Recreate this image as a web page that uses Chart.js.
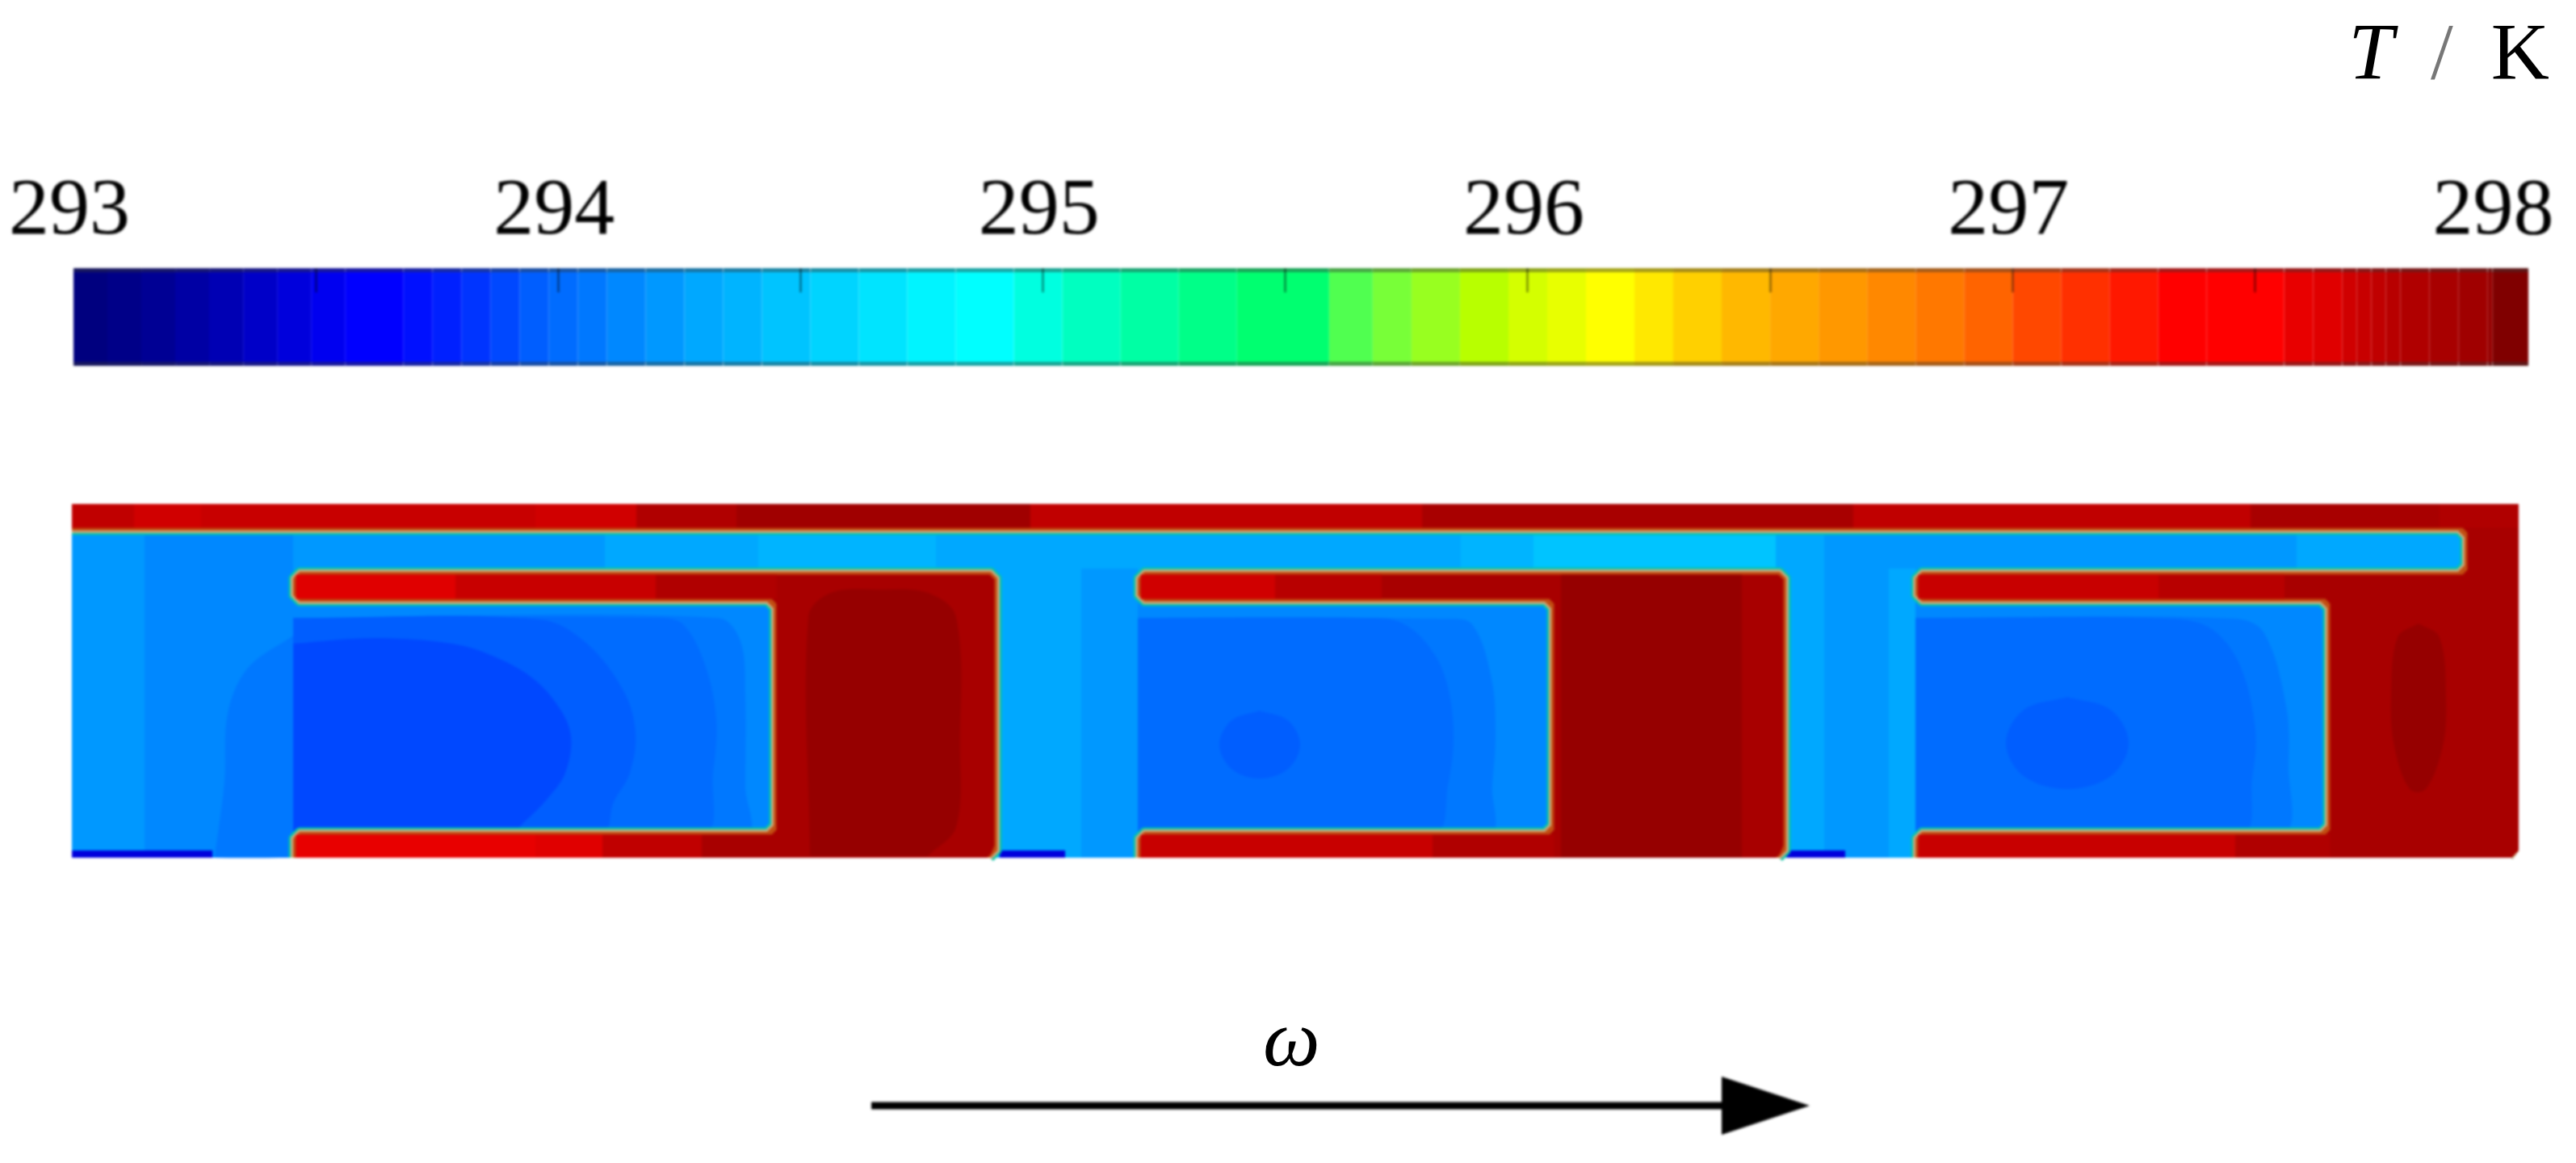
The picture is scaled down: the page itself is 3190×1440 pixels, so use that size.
<!DOCTYPE html>
<html>
<head>
<meta charset="utf-8">
<title>T / K</title>
<script src="https://cdn.jsdelivr.net/npm/chart.js@4"></script>
<style>
    html, body { margin: 0; padding: 0; background: #fff; }
    body { width: 3190px; height: 1440px; position: relative; overflow: hidden; }
    canvas { position: absolute; filter: blur(1.4px); }
    #barChart { left: 0; top: 200px; }
    #fieldChart { left: 89px; top: 624px; }
    .note { position: absolute; font-family: "Liberation Serif", serif; color: #000; line-height: 1; white-space: pre; }
    #unit { right: 33px; top: 14px; font-size: 100px; }
    #unit i { margin-right: 46px; }
    #unit .slash { color: #777; margin-right: 47px; }
    #omega { left: 1564px; top: 1236px; font-size: 100px; font-style: italic; }
</style>
</head>
<body>
<canvas id="barChart" width="3190" height="253"></canvas>
<canvas id="fieldChart" width="3030" height="816"></canvas>
<div class="note" id="unit"><i>T</i><span class="slash">/</span>K</div>
<div class="note" id="omega">ω</div>

<script>
// Colour bar: band start temperatures and colours
const tempMin = 293;
const tempMax = 298.064;
const tempStep = 0.5;
const tempLabels = [293, 294, 295, 296, 297, 298];
const bandStarts = [293.00, 293.07, 293.14, 293.21, 293.28, 293.35, 293.42, 293.49, 293.56, 293.68,
    293.74, 293.80, 293.86, 293.92, 293.98, 294.04, 294.10, 294.18, 294.26, 294.34,
    294.42, 294.52, 294.62, 294.72, 294.82, 294.94, 295.04, 295.16, 295.28, 295.40,
    295.59, 295.68, 295.76, 295.86, 295.96, 296.04, 296.12, 296.22, 296.30, 296.40,
    296.50, 296.60, 296.70, 296.80, 296.90, 297.00, 297.10, 297.20, 297.30, 297.40,
    297.56, 297.62, 297.68, 297.71, 297.74, 297.77, 297.80, 297.86, 297.92, 297.98, 297.99];
const bandColors = ['#00007f', '#000088', '#000094', '#0000a4', '#0000b4', '#0000c8', '#0000dc', '#0000f0', '#0000ff', '#0010ff',
    '#0020ff', '#0034ff', '#0048ff', '#005eff', '#006cff', '#0078ff', '#0088ff', '#0098ff', '#00a8ff', '#00b4ff',
    '#00c4ff', '#00d4ff', '#00e4ff', '#00f4ff', '#00ffff', '#00ffe0', '#00ffc0', '#00ffa4', '#00ff88', '#00ff70',
    '#50ff50', '#78ff38', '#98ff20', '#b8ff00', '#d4ff00', '#e8ff00', '#ffff00', '#ffe800', '#ffd000', '#ffb800',
    '#ffa800', '#ff9800', '#ff8800', '#ff7800', '#ff6400', '#ff4800', '#ff3000', '#ff1800', '#ff0000', '#ff0000',
    '#e80000', '#e00000', '#d00000', '#c80000', '#c00000', '#b80000', '#b00000', '#a80000', '#a00000', '#960000', '#800000'];

// Field geometry in domain units, x along the channel, y down from the top wall
const fieldSize = [303, 43.8];
const viewDepth = 81.6;

// Wall paths, each starts and ends where the wall meets the open bottom
const solid1Wall = [[27.4, 43.8], [27.4, 40.6], [86.9, 40.6], [86.9, 12.1], [27.4, 12.1], [27.4, 8.4], [114.6, 8.4], [114.6, 42.9], [113.7, 43.8]];
const solid2Wall = [[132, 43.8], [132, 40.6], [183.2, 40.6], [183.2, 12.1], [132, 12.1], [132, 8.4], [212.3, 8.4], [212.3, 42.9], [211.4, 43.8]];
const shellWall = [[228.3, 43.8], [228.3, 40.6], [279.3, 40.6], [279.3, 12.1], [228.3, 12.1], [228.3, 8.4], [296.3, 8.4], [296.3, 3.3], [0, 3.3], [0, 0], [303, 0], [303, 42.9], [302.1, 43.8]];
const solid1Core = [[27.75, 43.8], [27.75, 40.95], [87.25, 40.95], [87.25, 11.75], [27.75, 11.75], [27.75, 8.75], [114.25, 8.75], [114.25, 42.9], [113.35, 43.8]];
const solid2Core = [[132.35, 43.8], [132.35, 40.95], [183.55, 40.95], [183.55, 11.75], [132.35, 11.75], [132.35, 8.75], [211.95, 8.75], [211.95, 42.9], [211.05, 43.8]];
const shellCore = [[228.65, 43.8], [228.65, 40.95], [279.65, 40.95], [279.65, 11.75], [228.65, 11.75], [228.65, 8.75], [296.65, 8.75], [296.65, 2.95], [0, 2.95], [0, 0], [303, 0], [303, 42.9], [302.1, 43.8]];
const outerCorner = [[303.2, 42.7], [303.2, 44.5], [301.9, 44.5], [303.2, 42.7]];

// Flat temperature patches of the fluid: [temperature, x0, y0, x1, y1]
const fluidPatches = [
    [294.18, 0, 0, 9, 43.8],
    [294.10, 9, 3, 27.4, 43.8],
    [294.10, 27.4, 12, 87, 41],
    [294.18, 27.4, 3, 66, 8.4],
    [294.26, 66, 3, 85, 8.4],
    [294.34, 85, 3, 107, 8.4],
    [294.26, 107, 3, 172, 8.4],
    [294.34, 172, 3, 181, 8.4],
    [294.42, 181, 3, 211, 8.4],
    [294.26, 211, 3, 217, 8.4],
    [294.18, 217, 3, 275.5, 8.4],
    [294.26, 275.5, 3, 297, 8.4],
    [294.26, 114, 8, 125, 43.8],
    [294.18, 125, 8, 132, 43.8],
    [294.26, 212, 8, 217, 43.8],
    [294.18, 217, 8, 225, 43.8],
    [294.26, 225, 8, 228.3, 43.8],
    [294.10, 132, 12, 183.5, 41],
    [294.10, 228.3, 12, 279.5, 41],
    [293.42, 0, 42.9, 17.4, 43.8],
    [293.42, 114.9, 42.9, 123, 43.8],
    [293.42, 212.3, 42.9, 219.6, 43.8]
];

// Curved contours of the fluid, outer first: [temperature, outline]
const fluidContours = [
    [294.04, [[27.4, 16.3], [21.8, 20.3], [19.3, 25.9], [18.9, 34.3], [17.7, 43.6], [17.7, 43.8], [27.4, 43.8]]],
    [294.04, [[27.4, 14.1], [80, 14.1], [82.8, 17], [83.4, 24], [83.4, 35], [83.4, 41], [27.4, 41]]],
    [293.98, [[27.4, 14.1], [73, 14.1], [75.8, 15], [78.4, 19.9], [79.8, 26.6], [79.4, 33.3], [78.1, 41], [27.4, 41]]],
    [293.92, [[27.4, 14.1], [58, 14.3], [63.8, 17.3], [68.4, 23.3], [69.8, 28.3], [69.1, 33.3], [67.1, 36.9], [65.5, 41], [27.4, 41]]],
    [293.86, [[27.4, 17.3], [37.5, 16.6], [47.1, 17.3], [52.1, 18.8], [57.1, 21.6], [60.4, 25.3], [61.8, 28.8], [61.1, 33.3], [58.8, 36.6], [56.1, 39.3], [54, 41], [27.4, 41]]],
    [294.04, [[132, 14.1], [170, 14.2], [173.4, 14.9], [175.8, 21.6], [176.3, 28.3], [175.9, 34.9], [175.4, 41], [132, 41]]],
    [293.98, [[132, 14.1], [160, 14.1], [164.4, 14.6], [167.8, 17.3], [170.1, 21.6], [171.1, 28.3], [170.4, 34.9], [168.6, 41], [132, 41]]],
    [293.92, [[147.1, 25.6], [150.6, 26.8], [152.1, 29.8], [150.6, 32.8], [147.1, 34], [143.6, 32.8], [142.1, 29.8], [143.6, 26.8], [147.1, 25.6]]],
    [294.04, [[228.3, 14.1], [268, 14.2], [271.5, 16], [274.2, 25], [274.5, 32], [273.5, 41], [228.3, 41]]],
    [293.98, [[228.3, 14.1], [260, 14.2], [265, 15.5], [268.5, 20], [270.4, 28], [270, 34], [268.6, 41], [228.3, 41]]],
    [293.92, [[247.1, 23.9], [252.5, 25.5], [254.7, 29.6], [252.5, 33.7], [247.1, 35.3], [241.7, 33.7], [239.5, 29.6], [241.7, 25.5], [247.1, 23.9]]]
];

// Flat temperature patches of the solid parts
const solidPatches = [
    [297.62, 27.75, 8.75, 47.5, 11.75],
    [297.71, 47.5, 8.75, 72.3, 11.75],
    [297.80, 72.3, 8.75, 87.25, 11.75],
    [297.56, 27.75, 40.95, 57.4, 43.8],
    [297.62, 57.4, 40.95, 65.7, 43.8],
    [297.74, 65.7, 40.95, 78, 43.8],
    [297.86, 78, 40.95, 87.25, 43.8],
    [297.68, 132.35, 8.75, 149, 11.75],
    [297.77, 149, 8.75, 162.2, 11.75],
    [297.71, 132.35, 40.95, 168.5, 43.8],
    [297.80, 168.5, 40.95, 183.55, 43.8],
    [297.98, 184.4, 8.75, 206.8, 43.8],
    [297.71, 228.65, 8.75, 258.4, 11.75],
    [297.77, 258.4, 8.75, 274, 11.75],
    [297.71, 228.65, 40.95, 267.9, 43.8],
    [297.80, 267.9, 40.95, 279.65, 43.8],
    [297.74, 0, 0, 7.7, 2.95],
    [297.68, 7.7, 0, 16, 2.95],
    [297.71, 16, 0, 57.4, 2.95],
    [297.68, 57.4, 0, 69.9, 2.95],
    [297.80, 69.9, 0, 82.3, 2.95],
    [297.92, 82.3, 0, 118.7, 2.95],
    [297.74, 118.7, 0, 167.2, 2.95],
    [297.86, 167.2, 0, 220.6, 2.95],
    [297.74, 220.6, 0, 269.8, 2.95],
    [297.86, 269.8, 0, 293.2, 2.95],
    [297.80, 293.2, 0, 303, 2.95]
];

// Curved hot cores of the solid parts
const solidContours = [
    [297.98, [[91.4, 43.6], [91.2, 14], [94, 11], [100, 10.6], [106, 11], [109.5, 14], [110, 30], [109.5, 40], [106, 43.6]]],
    [297.98, [[290.6, 14.8], [293.2, 16.5], [294, 24], [293.6, 30], [291.5, 35.3], [289.5, 35.3], [287.6, 30], [287.2, 24], [288, 16.5], [290.6, 14.8]]]
];

// Rotation arrow, in the same domain units
const arrowLine = [[99, 74.5], [204.3, 74.5]];
const arrowHead = [[204.3, 70.9], [215.2, 74.5], [204.3, 78.1], [204.3, 70.9]];

function colorForTemp(t) {
    let found = bandColors[0];
    bandStarts.forEach((start, i) => {
        if (t >= start) found = bandColors[i];
    });
    return found;
}

// Darkened rim of the colour bar
function rimColor(hex) {
    const n = parseInt(hex.slice(1), 16);
    const mix = v => Math.round(v * 0.55 + 24);
    return `rgb(${mix(n >> 16)}, ${mix((n >> 8) & 255)}, ${mix(n & 255)})`;
}

function toPoints(path) {
    return path.map(([x, y]) => ({ x, y }));
}

function rectPath(x0, y0, x1, y1) {
    return [[x0, y0], [x1, y0], [x1, y1], [x0, y1], [x0, y0]];
}

// Cut the inner corners of a wall so it reads as rounded
function cutCorners(path, r) {
    const out = [];
    path.forEach((p, i) => {
        const prev = path[i - 1];
        const next = path[i + 1];
        const onRim = p[0] === 0 || p[0] === fieldSize[0] || p[1] === 0;
        if (!prev || !next || onRim) {
            out.push(p);
            return;
        }
        const d1 = Math.hypot(p[0] - prev[0], p[1] - prev[1]);
        const d2 = Math.hypot(next[0] - p[0], next[1] - p[1]);
        if (Math.min(d1, d2) < r * 2) {
            out.push(p);
            return;
        }
        out.push([p[0] + (prev[0] - p[0]) * r / d1, p[1] + (prev[1] - p[1]) * r / d1]);
        out.push([p[0] + (next[0] - p[0]) * r / d2, p[1] + (next[1] - p[1]) * r / d2]);
    });
    return out;
}

// Colour bar chart
const barDatasets = bandStarts.map((start, i) => {
    const end = i + 1 < bandStarts.length ? bandStarts[i + 1] : tempMax;
    return {
        data: [[start, end]],
        backgroundColor: bandColors[i],
        borderColor: rimColor(bandColors[i]),
        borderWidth: { top: 6, bottom: 6, left: 0, right: 0 },
        borderSkipped: false,
        inflateAmount: 1,
        grouped: false,
        categoryPercentage: 1,
        barPercentage: 1
    };
});

new Chart(document.getElementById('barChart'), {
    type: 'bar',
    data: { labels: ['T'], datasets: barDatasets },
    options: {
        indexAxis: 'y',
        responsive: false,
        animation: false,
        layout: { padding: { left: 91, right: 59, top: 0, bottom: 0 } },
        plugins: { legend: { display: false }, tooltip: { enabled: false } },
        scales: {
            x: {
                type: 'linear',
                position: 'top',
                min: tempMin,
                max: tempMax,
                afterFit: scale => {
                    scale.height = 132;
                    scale.paddingLeft = 0;
                    scale.paddingRight = 0;
                },
                border: { display: false },
                grid: {
                    z: 1,
                    drawOnChartArea: false,
                    tickLength: -30,
                    tickWidth: 2,
                    tickColor: c => (c.tick && (c.tick.value === tempMin || c.tick.value === 298)
                        ? 'rgba(0,0,0,0)' : 'rgba(0,0,0,0.55)')
                },
                ticks: {
                    stepSize: tempStep,
                    includeBounds: false,
                    autoSkip: false,
                    maxRotation: 0,
                    minRotation: 0,
                    labelOffset: -5,
                    padding: 39,
                    color: '#000',
                    font: { family: '"Liberation Serif"', size: 100 },
                    callback: v => (tempLabels.includes(v) ? String(v) : '')
                }
            },
            y: { display: false }
        }
    }
});

// Field chart, every region is a closed line filled through the scales
const fieldDatasets = [];

function addFill(path, temp, smooth) {
    fieldDatasets.push({
        data: toPoints(path),
        showLine: true,
        pointRadius: 0,
        borderWidth: 0,
        borderColor: 'rgba(0,0,0,0)',
        backgroundColor: typeof temp === 'number' ? colorForTemp(temp) : temp,
        fill: 'shape',
        tension: smooth ? 0.35 : 0,
        clip: 0
    });
}

function addStroke(path, color, width) {
    fieldDatasets.push({
        data: toPoints(path),
        showLine: true,
        pointRadius: 0,
        borderWidth: width,
        borderColor: color,
        borderJoinStyle: 'round',
        fill: false,
        tension: 0,
        clip: 0
    });
}

const walls = [solid1Wall, solid2Wall, shellWall].map(p => cutCorners(p, 0.8));
const cores = [solid1Core, solid2Core, shellCore].map(p => cutCorners(p, 0.6));

addFill(rectPath(0, 0, fieldSize[0], fieldSize[1]), 294.10, false);
fluidPatches.forEach(([t, x0, y0, x1, y1]) => addFill(rectPath(x0, y0, x1, y1), t, false));
fluidContours.forEach(([t, path]) => addFill(path, t, true));
walls.forEach(path => addStroke(path, '#00c4a8', 11));
walls.forEach(path => addStroke(path, '#c8aa80', 6));
walls.forEach(path => addFill(path, '#c24e12', false));
cores.forEach(path => addFill(path, 297.86, false));
solidPatches.forEach(([t, x0, y0, x1, y1]) => addFill(rectPath(x0, y0, x1, y1), t, false));
solidContours.forEach(([t, path]) => addFill(path, t, true));
addFill(outerCorner, '#fff', false);
addStroke(arrowLine, '#000', 9);
addFill(arrowHead, '#000', false);

// Later entries are painted on top
fieldDatasets.forEach((ds, i) => { ds.order = fieldDatasets.length - i; });

new Chart(document.getElementById('fieldChart'), {
    type: 'scatter',
    data: { datasets: fieldDatasets },
    options: {
        responsive: false,
        animation: false,
        layout: { padding: 0 },
        plugins: { legend: { display: false }, tooltip: { enabled: false } },
        scales: {
            x: { type: 'linear', min: 0, max: fieldSize[0], display: false },
            y: { type: 'linear', min: 0, max: viewDepth, reverse: true, display: false }
        }
    }
});
</script>
</body>
</html>
